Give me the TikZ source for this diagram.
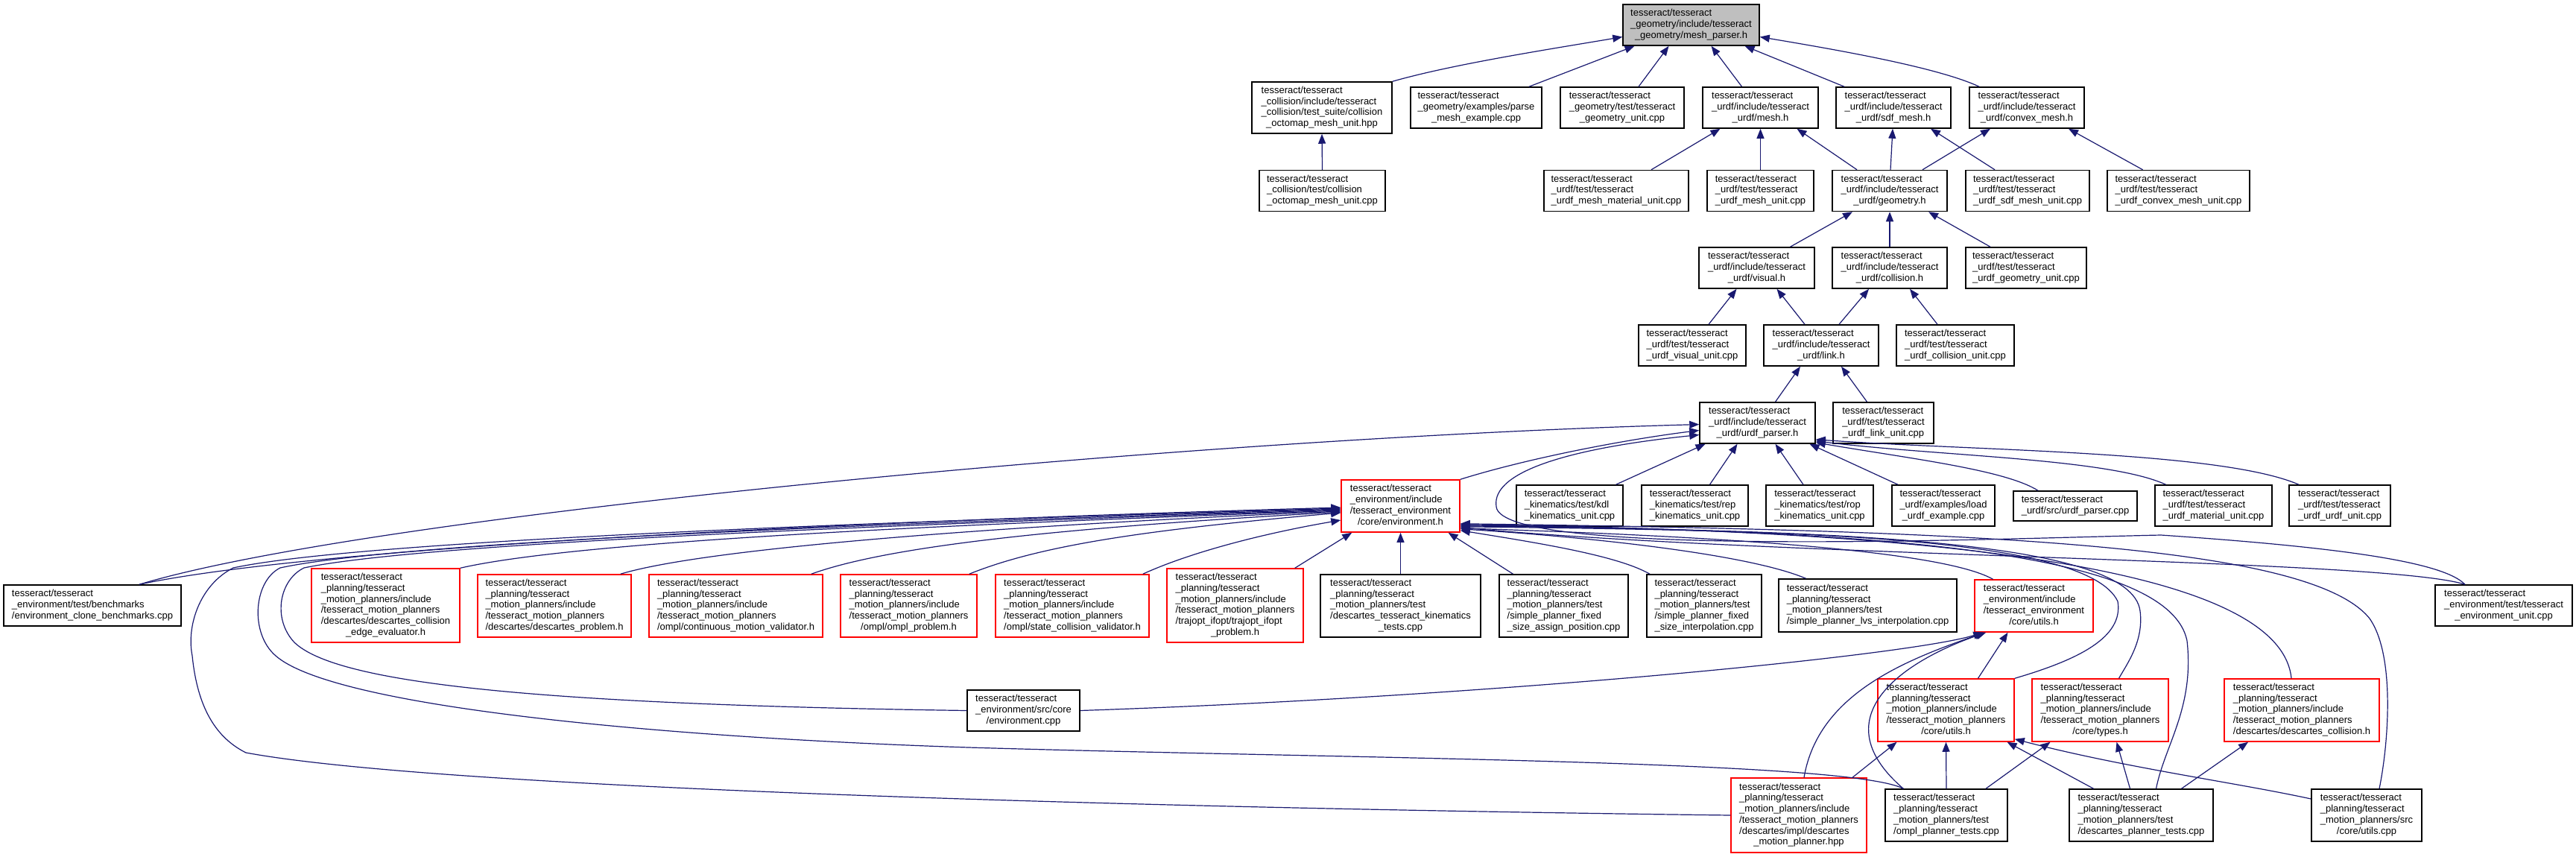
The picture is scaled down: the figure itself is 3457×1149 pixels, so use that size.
\documentclass[tikz,border=0pt]{standalone}
\usepackage{fontspec}
\setmainfont{Liberation Sans}
\usetikzlibrary{arrows.meta}
\definecolor{edgeblue}{HTML}{191970}
\definecolor{rootgrey}{HTML}{BFBFBF}
\newcommand{\dxfont}{\fontsize{13}{14.7}\selectfont}
\newcommand{\flines}[1]{\begin{tabular}{@{}l@{}}#1\end{tabular}}
\newcommand{\lastln}[1]{\multicolumn{1}{@{}c@{}}{#1}}
\newcommand{\tss}{tesseract/tesseract}
\newcommand{\urdfinc}{\tss\\ \_urdf/include/tesseract}
\newcommand{\urdftest}{\tss\\ \_urdf/test/tesseract}
\newcommand{\mpinc}{\tss\\ \_planning/tesseract\\ \_motion\_planners/include\\ /tesseract\_motion\_planners}
\newcommand{\mptest}{\tss\\ \_planning/tesseract\\ \_motion\_planners/test}

\begin{document}
\begin{tikzpicture}[x=1pt, y=-1pt,
    incl/.style={rectangle, draw=black, line width=1.5pt, fill=white, inner sep=0pt, font=\dxfont},
    trunc/.style={incl, draw=red},
    root/.style={incl, fill=rootgrey},
    sz/.style 2 args={minimum width=#1pt, minimum height=#2pt},
    dep/.style={{Triangle[length=13pt, width=10pt]}-, line width=1.2pt, edgeblue},
]
\useasboundingbox (0,0) rectangle (3457,1149);
\fill[white] (0,0) rectangle (3457,1149);

\node[root, sz={183}{55}] (meshparser) at (2269.5,33.5) {\flines{\tss\\ \_geometry/include/tesseract\\ \lastln{\_geometry/mesh\_parser.h}}};

\node[incl, sz={188}{69}] (octohpp) at (1774,144.5) {\flines{\tss\\ \_collision/include/tesseract\\ \_collision/test\_suite/collision\\ \lastln{\_octomap\_mesh\_unit.hpp}}};
\node[incl, sz={176}{55}] (parsemesh) at (1981,144.5) {\flines{\tss\\ \_geometry/examples/parse\\ \lastln{\_mesh\_example.cpp}}};
\node[incl, sz={166}{55}] (geomunit) at (2177,144.5) {\flines{\tss\\ \_geometry/test/tesseract\\ \lastln{\_geometry\_unit.cpp}}};
\node[incl, sz={155}{55}] (meshh) at (2362.5,144.5) {\flines{\urdfinc\\ \lastln{\_urdf/mesh.h}}};
\node[incl, sz={154}{55}] (sdfmeshh) at (2541,144.5) {\flines{\urdfinc\\ \lastln{\_urdf/sdf\_mesh.h}}};
\node[incl, sz={154}{55}] (convexh) at (2720,144.5) {\flines{\urdfinc\\ \lastln{\_urdf/convex\_mesh.h}}};

\node[incl, sz={169}{55}] (octocpp) at (1774.5,256) {\flines{\tss\\ \_collision/test/collision\\ \lastln{\_octomap\_mesh\_unit.cpp}}};
\node[incl, sz={194}{55}] (matunit) at (2169,256) {\flines{\urdftest\\ \lastln{\_urdf\_mesh\_material\_unit.cpp}}};
\node[incl, sz={143}{55}] (meshunit) at (2362.5,256) {\flines{\urdftest\\ \lastln{\_urdf\_mesh\_unit.cpp}}};
\node[incl, sz={154}{55}] (geometryh) at (2536,256) {\flines{\urdfinc\\ \lastln{\_urdf/geometry.h}}};
\node[incl, sz={166}{55}] (sdfunit) at (2721,256) {\flines{\urdftest\\ \lastln{\_urdf\_sdf\_mesh\_unit.cpp}}};
\node[incl, sz={191}{55}] (convexunit) at (2923.5,256) {\flines{\urdftest\\ \lastln{\_urdf\_convex\_mesh\_unit.cpp}}};

\node[incl, sz={155}{55}] (visualh) at (2357.5,359.5) {\flines{\urdfinc\\ \lastln{\_urdf/visual.h}}};
\node[incl, sz={154}{55}] (collisionh) at (2536,359.5) {\flines{\urdfinc\\ \lastln{\_urdf/collision.h}}};
\node[incl, sz={162}{55}] (urdfgeomunit) at (2719,359.5) {\flines{\urdftest\\ \lastln{\_urdf\_geometry\_unit.cpp}}};

\node[incl, sz={144}{55}] (visualunit) at (2271,463.5) {\flines{\urdftest\\ \lastln{\_urdf\_visual\_unit.cpp}}};
\node[incl, sz={154}{55}] (linkh) at (2444,463.5) {\flines{\urdfinc\\ \lastln{\_urdf/link.h}}};
\node[incl, sz={158}{55}] (collisionunit) at (2624,463.5) {\flines{\urdftest\\ \lastln{\_urdf\_collision\_unit.cpp}}};

\node[incl, sz={155}{55}] (parserh) at (2358.5,567.5) {\flines{\urdfinc\\ \lastln{\_urdf/urdf\_parser.h}}};
\node[incl, sz={135}{55}] (linkunit) at (2527.5,567.5) {\flines{\urdftest\\ \lastln{\_urdf\_link\_unit.cpp}}};

\node[trunc, sz={159}{70}] (envh) at (1879.5,679) {\flines{\tss\\ \_environment/include\\ /tesseract\_environment\\ \lastln{/core/environment.h}}};
\node[incl, sz={143}{55}] (kdl) at (2106.5,678.5) {\flines{\tss\\ \_kinematics/test/kdl\\ \lastln{\_kinematics\_unit.cpp}}};
\node[incl, sz={143}{55}] (rep) at (2274.5,678.5) {\flines{\tss\\ \_kinematics/test/rep\\ \lastln{\_kinematics\_unit.cpp}}};
\node[incl, sz={144}{55}] (rop) at (2442,678.5) {\flines{\tss\\ \_kinematics/test/rop\\ \lastln{\_kinematics\_unit.cpp}}};
\node[incl, sz={138}{55}] (loadurdf) at (2608,678.5) {\flines{\tss\\ \_urdf/examples/load\\ \lastln{\_urdf\_example.cpp}}};
\node[incl, sz={166}{40}] (parsercpp) at (2785,679) {\flines{\tss\\ \lastln{\_urdf/src/urdf\_parser.cpp}}};
\node[incl, sz={157}{55}] (materialunit) at (2970.5,678.5) {\flines{\urdftest\\ \lastln{\_urdf\_material\_unit.cpp}}};
\node[incl, sz={136}{55}] (urdfunit) at (3140,678.5) {\flines{\urdftest\\ \lastln{\_urdf\_urdf\_unit.cpp}}};

\node[incl, sz={238}{55}] (bench) at (124,812.5) {\flines{\tss\\ \_environment/test/benchmarks\\ \lastln{/environment\_clone\_benchmarks.cpp}}};
\node[trunc, sz={199}{99}] (edgeeval) at (517.5,812.5) {\flines{\mpinc\\ /descartes/descartes\_collision\\ \lastln{\_edge\_evaluator.h}}};
\node[trunc, sz={206}{84}] (descprob) at (744,813) {\flines{\mpinc\\ \lastln{/descartes/descartes\_problem.h}}};
\node[trunc, sz={233}{84}] (contvalid) at (987.5,813) {\flines{\mpinc\\ \lastln{/ompl/continuous\_motion\_validator.h}}};
\node[trunc, sz={183}{84}] (omplprob) at (1219.5,813) {\flines{\mpinc\\ \lastln{/ompl/ompl\_problem.h}}};
\node[trunc, sz={206}{84}] (statevalid) at (1439,813) {\flines{\mpinc\\ \lastln{/ompl/state\_collision\_validator.h}}};
\node[trunc, sz={183}{99}] (trajopt) at (1657.5,812.5) {\flines{\mpinc\\ /trajopt\_ifopt/trajopt\_ifopt\\ \lastln{\_problem.h}}};
\node[incl, sz={215}{84}] (kintests) at (1879.5,813) {\flines{\mptest\\ /descartes\_tesseract\_kinematics\\ \lastln{\_tests.cpp}}};
\node[incl, sz={173}{84}] (assignpos) at (2098.5,813) {\flines{\mptest\\ /simple\_planner\_fixed\\ \lastln{\_size\_assign\_position.cpp}}};
\node[incl, sz={154}{84}] (fixedinterp) at (2287,813) {\flines{\mptest\\ /simple\_planner\_fixed\\ \lastln{\_size\_interpolation.cpp}}};
\node[incl, sz={239}{71}] (lvsinterp) at (2506.5,812.5) {\flines{\mptest\\ \lastln{/simple\_planner\_lvs\_interpolation.cpp}}};
\node[trunc, sz={159}{70}] (envutils) at (2729.5,813) {\flines{\tss\\ \_environment/include\\ /tesseract\_environment\\ \lastln{/core/utils.h}}};
\node[incl, sz={184}{55}] (envunit) at (3360,812.5) {\flines{\tss\\ \_environment/test/tesseract\\ \lastln{\_environment\_unit.cpp}}};

\node[incl, sz={151}{55}] (envcpp) at (1373.5,953.5) {\flines{\tss\\ \_environment/src/core\\ \lastln{/environment.cpp}}};
\node[trunc, sz={183}{84}] (mputils) at (2611.5,953) {\flines{\mpinc\\ \lastln{/core/utils.h}}};
\node[trunc, sz={183}{84}] (types) at (2818.5,953) {\flines{\mpinc\\ \lastln{/core/types.h}}};
\node[trunc, sz={208}{84}] (desccoll) at (3089,953) {\flines{\mpinc\\ \lastln{/descartes/descartes\_collision.h}}};

\node[trunc, sz={182}{100}] (descplanner) at (2414,1094) {\flines{\mpinc\\ /descartes/impl/descartes\\ \lastln{\_motion\_planner.hpp}}};
\node[incl, sz={164}{70}] (ompltests) at (2612,1094) {\flines{\mptest\\ \lastln{/ompl\_planner\_tests.cpp}}};
\node[incl, sz={193}{70}] (desctests) at (2873.5,1094) {\flines{\mptest\\ \lastln{/descartes\_planner\_tests.cpp}}};
\node[incl, sz={148}{70}] (utilscpp) at (3176,1094) {\flines{\tss\\ \_planning/tesseract\\ \_motion\_planners/src\\ \lastln{/core/utils.cpp}}};

\draw[dep] ([yshift=-16pt]meshparser.west) .. controls (2080,66) and (1950,86) .. (octohpp.north east);
\draw[dep] ([xshift=-76pt]meshparser.south) -- ([xshift=71pt]parsemesh.north);
\draw[dep] ([xshift=-30pt]meshparser.south) -- ([xshift=22pt]geomunit.north);
\draw[dep] ([xshift=27pt]meshparser.south) -- ([xshift=-25pt]meshh.north);
\draw[dep] ([xshift=72pt]meshparser.south) -- ([xshift=-66pt]sdfmeshh.north);
\draw[dep] ([yshift=-16pt]meshparser.east) .. controls (2460,66) and (2600,90) .. ([xshift=-64pt]convexh.north);

\draw[dep] (octohpp.south) -- (octocpp.north);
\draw[dep] ([xshift=-54pt]meshh.south) -- ([xshift=47pt]matunit.north);
\draw[dep] (meshh.south) -- (meshunit.north);
\draw[dep] ([xshift=49pt]meshh.south) -- ([xshift=-44pt]geometryh.north);
\draw[dep] ([xshift=-1pt]sdfmeshh.south) -- ([xshift=1pt]geometryh.north);
\draw[dep] ([xshift=50pt]sdfmeshh.south) -- ([xshift=-44pt]sdfunit.north);
\draw[dep] ([xshift=-49pt]convexh.south) -- ([xshift=44pt]geometryh.north);
\draw[dep] ([xshift=56pt]convexh.south) -- ([xshift=-48pt]convexunit.north);

\draw[dep] ([xshift=-50pt]geometryh.south) -- ([xshift=45pt]visualh.north);
\draw[dep] (geometryh.south) -- (collisionh.north);
\draw[dep] ([xshift=52pt]geometryh.south) -- ([xshift=-48pt]urdfgeomunit.north);
\draw[dep] ([xshift=-27pt]visualh.south) -- ([xshift=22pt]visualunit.north);
\draw[dep] ([xshift=27pt]visualh.south) -- ([xshift=-22pt]linkh.north);
\draw[dep] ([xshift=-28pt]collisionh.south) -- ([xshift=24pt]linkh.north);
\draw[dep] ([xshift=27pt]collisionh.south) -- ([xshift=-24pt]collisionunit.north);
\draw[dep] ([xshift=-28pt]linkh.south) -- ([xshift=24pt]parserh.north);
\draw[dep] ([xshift=27pt]linkh.south) -- ([xshift=-22pt]linkunit.north);

\draw[dep] ([yshift=-2pt]parserh.west) .. controls (1600,588) and (500,690) .. ([xshift=63pt]bench.north);
\draw[dep] ([yshift=-10pt]parserh.west) .. controls (2180,590) and (2050,615) .. (envh.north east);
\draw[dep] ([yshift=-16pt]parserh.west) .. controls (2120,600) and (2000,630) .. (2008,680) .. controls (2015,750) and (2700,722) .. (2900,718) .. controls (3150,735) and (3280,755) .. ([xshift=-52pt]envunit.north);
\draw[dep] ([xshift=-70pt]parserh.south) -- ([xshift=62pt]kdl.north);
\draw[dep] ([xshift=-27pt]parserh.south) -- ([xshift=20pt]rep.north);
\draw[dep] ([xshift=24pt]parserh.south) -- ([xshift=-22pt]rop.north);
\draw[dep] ([xshift=70pt]parserh.south) -- ([xshift=-61pt]loadurdf.north);
\draw[dep] ([yshift=2pt]parserh.south east) .. controls (2560,615) and (2690,630) .. ([xshift=-50pt]parsercpp.north);
\draw[dep] ([yshift=4pt]parserh.south east) .. controls (2600,612) and (2830,615) .. ([xshift=-64pt]materialunit.north);
\draw[dep] ([yshift=6pt]parserh.south east) .. controls (2650,605) and (2980,605) .. ([xshift=-55pt]urdfunit.north);

\draw[dep] ([yshift=-2pt]envh.west) .. controls (1300,695) and (450,728) .. ([xshift=63pt]bench.north);
\draw[dep] ([yshift=-3pt]envh.west) .. controls (1300,697) and (500,722) .. (313,762) .. controls (268,785) and (250,840) .. (258,880) .. controls (265,950) and (290,990) .. (330,1010) .. controls (600,1060) and (1600,1085) .. (descplanner.west);
\draw[dep] ([yshift=-4pt]envh.west) .. controls (1300,699) and (550,724) .. (376,762) .. controls (340,780) and (335,850) .. (370,880) .. controls (450,950) and (900,990) .. (1300,1003) .. controls (1800,1018) and (2480,1020) .. ([xshift=25pt]ompltests.north west);
\draw[dep] ([yshift=-5pt]envh.west) .. controls (1300,701) and (580,726) .. (408,762) .. controls (375,778) and (365,830) .. (395,862) .. controls (450,915) and (700,945) .. (envcpp.west);
\draw[dep] ([yshift=-6pt]envh.west) .. controls (1300,703) and (780,725) .. (edgeeval.north east);
\draw[dep] ([yshift=-7pt]envh.west) .. controls (1350,705) and (950,735) .. ([xshift=-15pt]descprob.north east);
\draw[dep] ([yshift=-8pt]envh.west) .. controls (1450,707) and (1200,730) .. ([xshift=-16pt]contvalid.north east);
\draw[dep] ([yshift=-9pt]envh.west) .. controls (1550,710) and (1400,730) .. ([xshift=-11pt]omplprob.north east);
\draw[dep] ([yshift=-19pt]envh.west) .. controls (1700,715) and (1600,740) .. ([xshift=-9pt]statevalid.north east);
\draw[dep] ([xshift=15pt]envh.south west) -- ([xshift=-12pt]trajopt.north east);
\draw[dep] (envh.south) -- (kintests.north);
\draw[dep] ([xshift=64pt]envh.south) -- ([xshift=-68pt]assignpos.north);

\draw[dep] ([yshift=3pt]envh.south east) .. controls (2060,728) and (2170,745) .. ([xshift=-73pt]fixedinterp.north);
\draw[dep] ([yshift=5pt]envh.south east) .. controls (2150,722) and (2350,745) .. ([xshift=-83pt]lvsinterp.north);
\draw[dep] ([yshift=6pt]envh.south east) .. controls (2250,718) and (2600,735) .. ([xshift=-55pt]envutils.north);
\draw[dep] ([yshift=7pt]envh.south east) .. controls (2400,748) and (3200,750) .. ([xshift=-52pt]envunit.north);
\draw[dep] ([yshift=8pt]envh.south east) .. controls (2400,712) and (2800,718) .. (2842,807) .. controls (2850,855) and (2790,885) .. (mputils.north east);
\draw[dep] ([yshift=9pt]envh.south east) .. controls (2450,712) and (2860,722) .. (2872,820) .. controls (2877,860) and (2855,890) .. ([xshift=25pt]types.north);
\draw[dep] ([yshift=10pt]envh.south east) .. controls (2500,712) and (2910,735) .. (2935,860) .. controls (2945,950) and (2905,1000) .. ([xshift=20pt]desctests.north);
\draw[dep] ([yshift=11pt]envh.south east) .. controls (2600,712) and (3060,760) .. ([xshift=-14pt]desccoll.north);
\draw[dep] ([yshift=12pt]envh.south east) .. controls (2650,712) and (3100,730) .. (3180,830) .. controls (3215,880) and (3205,1000) .. ([xshift=17pt]utilscpp.north);

\draw[dep] ([xshift=-35pt]envutils.south) -- ([xshift=43pt]mputils.north);
\draw[dep] ([xshift=12pt]envutils.south west) .. controls (2560,880) and (2000,935) .. (envcpp.east);
\draw[dep] ([xshift=14pt]envutils.south west) .. controls (2560,885) and (2440,930) .. ([xshift=7pt]descplanner.north);
\draw[dep] ([xshift=16pt]envutils.south west) .. controls (2560,885) and (2440,960) .. ([xshift=25pt]ompltests.north west);

\draw[dep] ([xshift=-66pt]mputils.south) -- ([xshift=72pt]descplanner.north);
\draw[dep] (mputils.south) -- (ompltests.north);
\draw[dep] ([xshift=82pt]mputils.south) -- ([xshift=-64pt]desctests.north);
\draw[dep] ([yshift=4pt]mputils.south east) .. controls (2850,1030) and (3000,1050) .. ([yshift=22pt]utilscpp.west);
\draw[dep] ([xshift=-67pt]types.south) -- ([xshift=53pt]ompltests.north);
\draw[dep] ([xshift=22pt]types.south) -- ([xshift=-15pt]desctests.north);
\draw[dep] ([xshift=-72pt]desccoll.south) -- ([xshift=54pt]desctests.north);
\end{tikzpicture}
\end{document}
